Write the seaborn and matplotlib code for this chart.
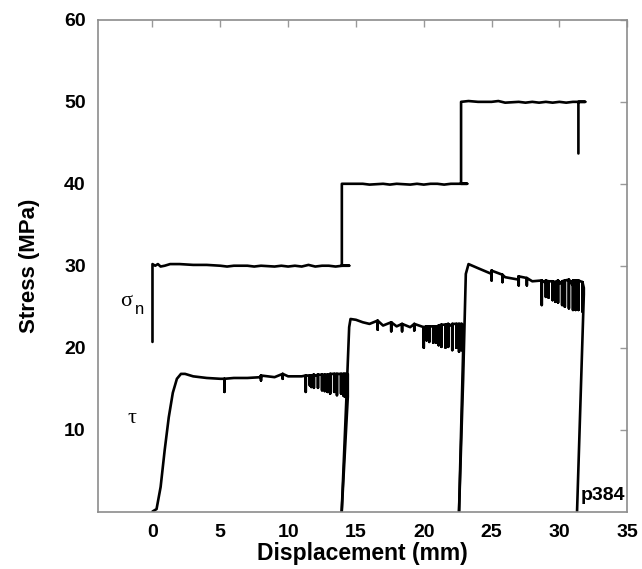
import numpy as np
import pandas as pd
import matplotlib
matplotlib.use("Agg")
import matplotlib.pyplot as plt
import seaborn as sns

# ---------------- data ----------------
# normal stress sigma_n path (displacement mm, stress MPa)
sn_x = [0.0, 0.0, 0.2, 0.4, 0.6, 0.9, 1.3, 2.0, 3.0, 4.0, 5.0, 5.5, 6.0, 7.0, 7.5, 8.0,
        9.0, 9.5, 10.0, 10.5, 11.0, 11.5, 12.0, 12.5, 13.0, 13.5, 14.0, 14.5,
        13.96, 13.96, 14.5, 15.5, 16.0, 17.0, 17.5, 18.0, 19.0, 19.5, 20.0, 20.5,
        21.0, 21.5, 22.0, 22.5, 23.2,
        22.75, 22.75, 23.3, 24.0, 25.0, 25.5, 26.0, 27.0, 27.5, 28.0, 28.5, 29.0,
        29.5, 30.0, 30.5, 31.0, 31.5, 31.9, 31.4, 31.4]
sn_y = [20.7, 30.2, 30.0, 30.2, 29.9, 30.0, 30.2, 30.2, 30.1, 30.1, 30.0, 29.9, 30.0, 30.0, 29.9, 30.0,
        29.9, 30.0, 29.9, 30.0, 29.9, 30.1, 29.9, 30.0, 30.0, 29.9, 30.0, 30.0,
        30.0, 40.0, 40.0, 40.0, 39.9, 40.0, 39.9, 40.0, 39.9, 40.0, 39.9, 40.0,
        40.0, 39.9, 40.0, 40.0, 40.0,
        40.0, 50.0, 50.1, 50.0, 50.0, 50.1, 49.9, 50.0, 49.9, 50.0, 49.9, 50.0,
        49.9, 50.0, 49.9, 50.0, 50.0, 50.0, 50.0, 43.7]

# shear stress tau, three loading stages (base curve)
tau1_x = [0.0, 0.3, 0.6, 0.9, 1.2, 1.5, 1.8, 2.1, 2.4, 3.0, 4.0, 5.0, 6.0, 7.0, 8.0,
          9.0, 10.0, 11.0, 12.0, 13.0, 14.0, 14.4, 14.4, 13.95]
tau1_y = [0.0, 0.3, 3.0, 7.5, 11.5, 14.5, 16.2, 16.8, 16.8, 16.5, 16.3, 16.2, 16.3, 16.3, 16.4,
          16.4, 16.5, 16.5, 16.6, 16.7, 16.8, 16.8, 14.0, 0.0]
tau1_drop_x = [5.3, 8.0, 9.6, 11.3, 11.6, 11.7, 11.9, 12.2, 12.5, 12.7, 12.9, 13.1, 13.4, 13.6, 13.9, 14.1, 14.2]
tau1_drop_top = [16.2, 16.6, 16.8, 16.6, 16.6, 16.6, 16.7, 16.7, 16.7, 16.7, 16.7, 16.8, 16.8, 16.8, 16.8, 16.8, 16.8]
tau1_drop_bot = [14.6, 16.0, 16.2, 14.6, 15.4, 15.2, 15.1, 15.1, 14.8, 14.7, 14.6, 14.4, 14.6, 14.2, 14.4, 14.1, 14.0]

tau2_x = [13.95, 14.3, 14.5, 14.6, 15.0, 15.5, 16.0, 17.0, 18.0, 19.0, 20.0, 21.0, 22.0, 22.9, 22.9, 22.6]
tau2_y = [0.0, 14.0, 22.5, 23.5, 23.4, 23.1, 22.9, 22.7, 22.6, 22.5, 22.5, 22.6, 22.7, 22.8, 19.5, 0.0]
tau2_drop_x = [16.6, 17.6, 18.4, 19.3, 20.0, 20.2, 20.4, 20.7, 20.9, 21.1, 21.3, 21.6, 21.8, 22.1, 22.4, 22.6, 22.8]
tau2_drop_top = [23.3, 23.1, 22.9, 22.9, 22.5, 22.6, 22.6, 22.6, 22.6, 22.7, 22.8, 22.8, 22.9, 22.9, 22.9, 22.9, 22.9]
tau2_drop_bot = [22.2, 22.0, 22.0, 22.1, 20.0, 20.9, 20.7, 20.6, 20.6, 20.3, 20.1, 20.0, 20.1, 19.7, 20.0, 19.5, 19.7]

tau3_x = [22.6, 22.9, 23.1, 23.3, 24.0, 25.0, 26.0, 27.0, 28.0, 29.0, 30.0, 31.0, 31.8, 31.8, 31.3]
tau3_y = [0.0, 16.0, 29.0, 30.2, 29.7, 29.0, 28.6, 28.3, 28.1, 27.9, 27.8, 27.6, 27.3, 26.5, 0.0]
tau3_drop_x = [25.0, 25.8, 27.0, 27.6, 28.7, 29.0, 29.2, 29.5, 29.7, 29.9, 30.2, 30.4, 30.7, 31.0, 31.2, 31.4, 31.7]
tau3_drop_top = [29.4, 28.9, 28.7, 28.5, 28.2, 28.2, 28.1, 28.1, 28.0, 28.2, 28.1, 28.2, 28.3, 28.2, 28.2, 28.2, 28.0]
tau3_drop_bot = [28.2, 28.0, 27.6, 27.6, 25.2, 26.2, 26.1, 25.8, 25.6, 25.5, 25.2, 25.0, 24.8, 24.6, 24.6, 24.6, 24.4]

x_ticks = [0, 5, 10, 15, 20, 25, 30, 35]
y_ticks = [10, 20, 30, 40, 50, 60]


def build_path(bx, by, dx, dtop, dbot):
    pts = [(x, y, 0) for x, y in zip(bx[:-2], by[:-2])]
    for x, t, b in zip(dx, dtop, dbot):
        pts += [(x, t, 1), (x, b, 2), (x, t, 3)]
    pts.sort(key=lambda p: (p[0], p[2]))
    pts += [(bx[-2], by[-2], 0), (bx[-1], by[-1], 0)]
    return [p[0] for p in pts], [p[1] for p in pts]


frames = []
frames.append(pd.DataFrame({"x": sn_x, "y": sn_y, "series": "sn", "order": range(len(sn_x))}))
for i, (bx, by, dx, dt, db) in enumerate([
        (tau1_x, tau1_y, tau1_drop_x, tau1_drop_top, tau1_drop_bot),
        (tau2_x, tau2_y, tau2_drop_x, tau2_drop_top, tau2_drop_bot),
        (tau3_x, tau3_y, tau3_drop_x, tau3_drop_top, tau3_drop_bot)]):
    px, py = build_path(bx, by, dx, dt, db)
    frames.append(pd.DataFrame({"x": px, "y": py, "series": f"tau{i+1}", "order": range(len(px))}))
df = pd.concat(frames, ignore_index=True)

# ---------------- plotting ----------------
sns.set_theme(style="white")
plt.rcParams["font.family"] = ["Liberation Sans", "DejaVu Sans"]
plt.rcParams["text.color"] = "black"
plt.rcParams["axes.labelcolor"] = "black"
plt.rcParams["xtick.labelcolor"] = "black"
plt.rcParams["ytick.labelcolor"] = "black"

fig = plt.figure(figsize=(6.42, 5.69), dpi=100)
ax = fig.add_axes([0.153, 0.101, 0.824, 0.864])

for name, g in df.groupby("series", sort=False):
    sns.lineplot(data=g, x="x", y="y", sort=False, estimator=None, color="black",
                 linewidth=1.9, ax=ax, legend=False)

ax.set_xlim(-4.0, 35.0)
ax.set_ylim(0, 60)
ax.set_xticks(x_ticks)
ax.set_yticks(y_ticks)
ax.set_xticklabels([str(t) for t in x_ticks], fontsize=14, fontweight="bold")
ax.set_yticklabels([str(t) for t in y_ticks], fontsize=14, fontweight="bold")
ax.tick_params(axis="both", which="both", direction="in", length=5, width=1,
               color="#999999", labelcolor="black", top=True, right=True)
ax.tick_params(axis="x", pad=9)
ax.tick_params(axis="y", pad=9)
for s in ax.spines.values():
    s.set_color("#8c8c8c")
    s.set_linewidth(1.2)

ax.set_xlabel("Displacement (mm)", fontsize=16.5, fontweight="bold", labelpad=1, color="black")
ax.set_ylabel("Stress (MPa)", fontsize=16, fontweight="bold", labelpad=17, color="black")

ax.text(-1.95, 25.6, "σ", fontsize=16, ha="center", va="center", family="Liberation Serif", color="black")
ax.text(-0.95, 24.6, "n", fontsize=12, ha="center", va="center", color="black")
ax.text(-1.5, 11.3, "τ", fontsize=16, ha="center", va="center", family="Liberation Serif", color="black")
ax.text(34.85, 2.0, "p384", fontsize=14, fontweight="bold", ha="right", va="center", color="black")

fig.savefig("out.png", dpi=100)
